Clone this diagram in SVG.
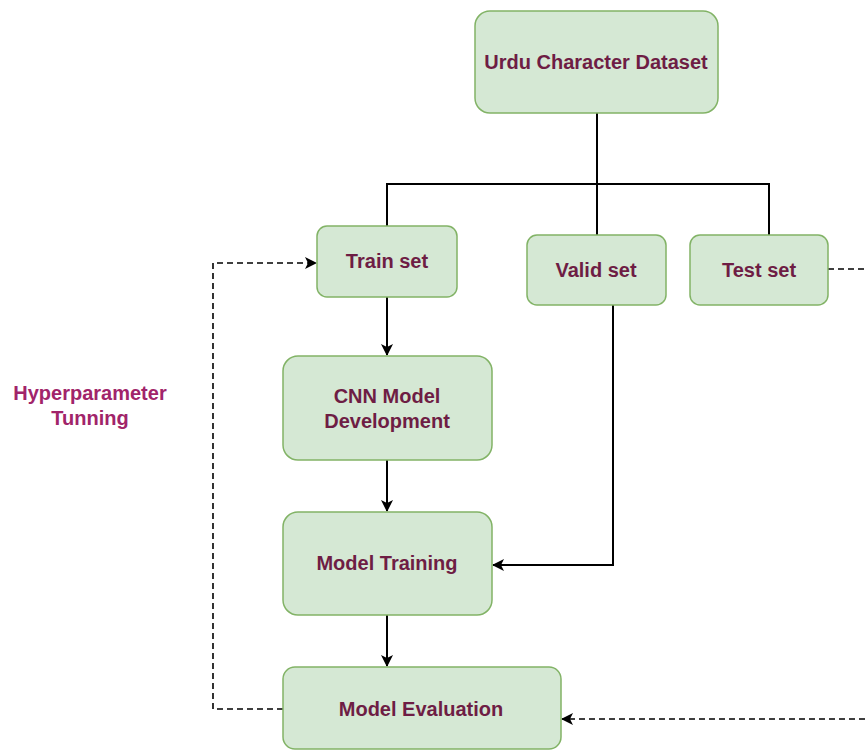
<svg xmlns="http://www.w3.org/2000/svg" width="865" height="751" viewBox="0 0 865 751">
<style>
.box{fill:#d5e8d4;stroke:#82b366;stroke-width:1.5}
.lbl{font-family:"Liberation Sans",Arial,sans-serif;font-size:20px;font-weight:bold;fill:#6e1d44;text-anchor:middle;dominant-baseline:central}
.side{font-family:"Liberation Sans",Arial,sans-serif;font-size:20px;font-weight:bold;fill:#a1246a;text-anchor:middle;dominant-baseline:central}
.ln{fill:none;stroke:#000;stroke-width:2}
.dash{fill:none;stroke:#000;stroke-width:1.6;stroke-dasharray:6 4}
</style>
<defs>
<marker id="ah" viewBox="0 0 12 12" refX="11" refY="6" markerWidth="12" markerHeight="12" markerUnits="userSpaceOnUse" orient="auto">
<path d="M0,0 L12,6 L0,12 L3,6 Z" fill="#000"/>
</marker>
</defs>
<rect width="865" height="751" fill="#fff"/>
<g id="connectors">
<path class="ln" d="M597,113 V184"/>
<path class="ln" d="M387,226 V184 H769 V235"/>
<path class="ln" d="M597,184 V235"/>
<path class="ln" d="M387,297 V355" marker-end="url(#ah)"/>
<path class="ln" d="M387,460 V511" marker-end="url(#ah)"/>
<path class="ln" d="M387,615 V666" marker-end="url(#ah)"/>
<path class="ln" d="M613,305 V565 H493" marker-end="url(#ah)"/>
<path class="dash" d="M283,709 H213 V263 H316" marker-end="url(#ah)"/>
<path class="dash" d="M828,269 H865"/>
<path class="dash" d="M865,719 H562" marker-end="url(#ah)"/>
</g>
<g id="dataset"><rect class="box" x="475" y="11" width="243" height="102" rx="15"/><text class="lbl" x="596" y="62">Urdu Character Dataset</text></g>
<g id="train"><rect class="box" x="317" y="226" width="140" height="71" rx="10"/><text class="lbl" x="387" y="261">Train set</text></g>
<g id="valid"><rect class="box" x="527" y="235" width="139" height="70" rx="10"/><text class="lbl" x="596" y="270">Valid set</text></g>
<g id="test"><rect class="box" x="690" y="235" width="138" height="70" rx="10"/><text class="lbl" x="759" y="270">Test set</text></g>
<g id="cnn"><rect class="box" x="283" y="356" width="209" height="104" rx="15"/><text class="lbl" x="387" y="396">CNN Model</text><text class="lbl" x="387" y="421">Development</text></g>
<g id="training"><rect class="box" x="283" y="512" width="209" height="103" rx="15"/><text class="lbl" x="387" y="563">Model Training</text></g>
<g id="evaluation"><rect class="box" x="283" y="667" width="278" height="82" rx="12"/><text class="lbl" x="421" y="709">Model Evaluation</text></g>
<g id="hyper"><text class="side" x="90" y="393">Hyperparameter</text><text class="side" x="90" y="418">Tunning</text></g>
</svg>
